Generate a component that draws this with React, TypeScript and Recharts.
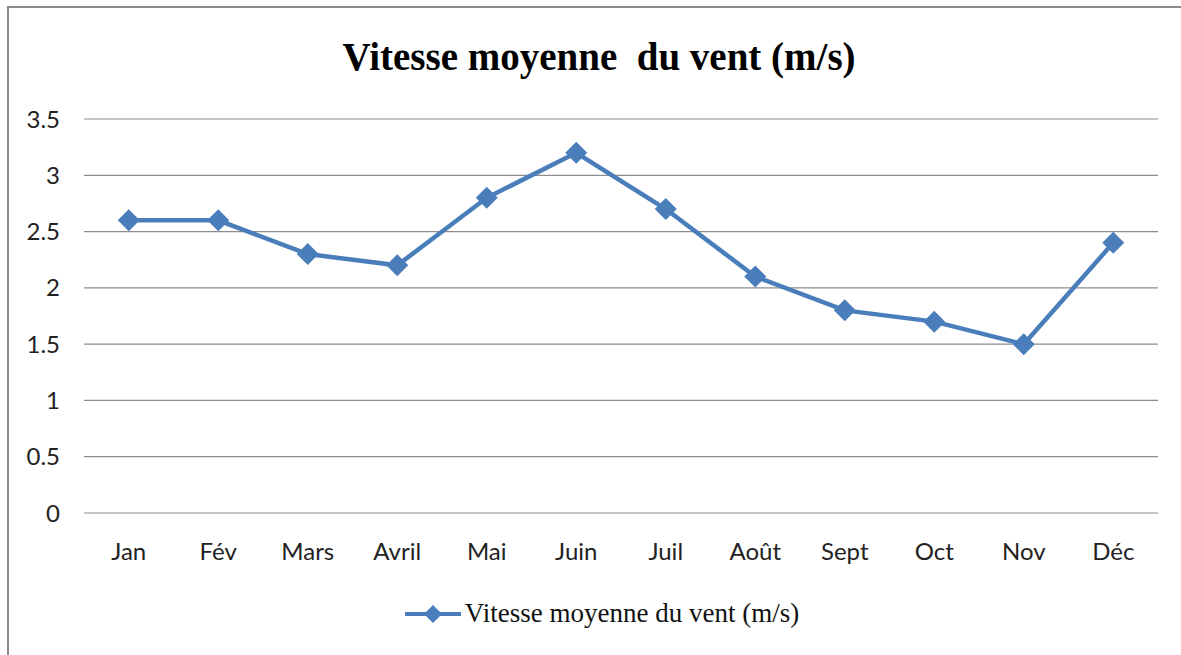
import React from 'react';
import { LineChart, Line, XAxis, YAxis, CartesianGrid } from 'recharts';

const months = ['Jan', 'Fév', 'Mars', 'Avril', 'Mai', 'Juin', 'Juil', 'Août', 'Sept', 'Oct', 'Nov', 'Déc'];
const windSpeed = [2.6, 2.6, 2.3, 2.2, 2.8, 3.2, 2.7, 2.1, 1.8, 1.7, 1.5, 2.4];
const yTicks = [0, 0.5, 1, 1.5, 2, 2.5, 3, 3.5];

const seriesName = 'Vitesse moyenne du vent (m/s)';
const data = months.map((m, i) => ({ month: m, vent: windSpeed[i] }));

const BLUE = '#4a7ebb';

const Diamond = (props: any) => {
  const { cx, cy } = props;
  if (cx == null || cy == null) return null;
  const r = 11;
  return <polygon key={props.index} points={`${cx},${cy - r} ${cx + r},${cy} ${cx},${cy + r} ${cx - r},${cy}`} fill={BLUE} />;
};

export default function App() {
  return (
    <div style={{ position: 'absolute', left: 0, top: 0, width: 1181, height: 655, background: '#fff', overflow: 'hidden' }}>
      <div style={{ position: 'absolute', left: 7, top: 6, width: 1181, height: 655, borderLeft: '2px solid #8a8a8a', borderTop: '2px solid #8a8a8a' }} />
      <div style={{ position: 'absolute', left: 0, top: 34, width: 1198, textAlign: 'center', fontFamily: '"Liberation Serif", serif', fontWeight: 'bold', fontSize: 39, color: '#000', whiteSpace: 'pre' }}>
        {'Vitesse moyenne  du vent (m/s)'}
      </div>
      <LineChart width={1181} height={655} data={data} margin={{ top: 119, right: 23, bottom: 112, left: 0 }}>
        <CartesianGrid vertical={false} stroke="#8c8c8c" strokeWidth={1.2} />
        <XAxis dataKey="month" height={30} axisLine={false} tickLine={false} tickSize={0} tickMargin={30} padding={{ left: 44.75, right: 44.75 }}
          tick={{ fontFamily: 'Lato, sans-serif', fontSize: 24, fill: '#222' }} interval={0} />
        <YAxis width={84} domain={[0, 3.5]} ticks={yTicks} axisLine={false} tickLine={false} tickSize={0} tickMargin={24}
          tick={{ fontFamily: 'Lato, sans-serif', fontSize: 24, fill: '#222' }} />
        <Line type="linear" dataKey="vent" name={seriesName} stroke={BLUE} strokeWidth={4.5} dot={Diamond} activeDot={false} isAnimationActive={false} />
      </LineChart>
      <div style={{ position: 'absolute', left: 0, top: 598, width: 1204, display: 'flex', justifyContent: 'center', alignItems: 'center' }}>
        <svg width={56} height={22} style={{ marginRight: 4 }}>
          <line x1={0} y1={11} x2={56} y2={11} stroke={BLUE} strokeWidth={4} />
          <polygon points="28,2 37,11 28,20 19,11" fill={BLUE} />
        </svg>
        <span style={{ fontFamily: '"Liberation Serif", serif', fontSize: 27, color: '#111' }}>{seriesName}</span>
      </div>
    </div>
  );
}
